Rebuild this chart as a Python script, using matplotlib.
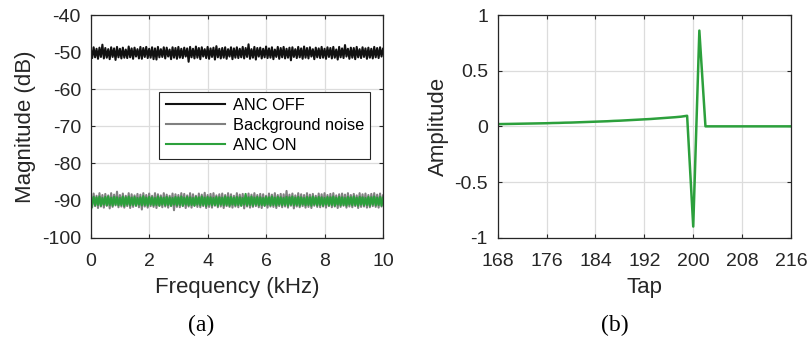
import numpy as np
import matplotlib
matplotlib.use("Agg")
import matplotlib.pyplot as plt

plt.rcParams['font.family'] = ['Liberation Sans', 'DejaVu Sans']

# ---- (a) magnitude spectra, dB, sampled every 0.05 kHz from 0 to 10 kHz ----
anc_off = [
    -49.0,-51.6,-48.7,-51.4,-49.1,-51.8,-48.8,-51.3,-48.0,-51.7,
    -48.9,-51.5,-49.2,-51.9,-48.7,-51.3,-49.0,-52.1,-48.6,-51.4,
    -49.1,-51.7,-48.8,-51.5,-49.3,-51.6,-48.5,-51.4,-49.0,-51.8,
    -48.8,-51.2,-49.2,-51.7,-48.6,-51.8,-48.9,-51.3,-48.6,-51.6,
    -49.1,-51.5,-48.7,-51.9,-49.0,-52.0,-48.6,-51.4,-49.2,-51.3,
    -48.7,-51.7,-48.8,-51.2,-49.3,-51.9,-48.7,-51.5,-48.9,-51.8,
    -48.6,-51.5,-49.1,-51.6,-48.8,-51.2,-49.0,-52.6,-48.6,-51.4,
    -49.1,-51.7,-48.5,-51.5,-48.9,-51.9,-48.7,-51.2,-49.2,-51.6,
    -48.6,-51.8,-49.0,-51.3,-48.8,-52.0,-48.4,-51.4,-49.1,-51.7,
    -48.9,-51.5,-48.7,-51.8,-49.2,-51.2,-48.7,-51.9,-49.0,-51.5,
    -48.7,-51.6,-49.1,-51.4,-48.6,-51.7,-48.9,-51.3,-47.9,-51.8,
    -49.2,-51.5,-48.6,-52.0,-48.9,-51.2,-48.8,-51.7,-49.1,-51.4,
    -48.5,-51.6,-49.0,-51.5,-48.7,-51.9,-49.3,-51.3,-48.6,-51.8,
    -48.9,-51.4,-48.6,-51.7,-49.1,-51.5,-48.8,-52.2,-48.7,-51.3,
    -49.2,-51.6,-48.6,-51.4,-49.0,-51.8,-48.5,-51.5,-48.9,-51.7,
    -48.7,-51.2,-49.2,-51.9,-48.8,-51.4,-49.0,-51.6,-48.6,-51.5,
    -49.1,-51.8,-48.7,-51.3,-48.9,-51.7,-48.6,-51.5,-49.3,-52.0,
    -48.6,-51.4,-49.0,-51.6,-48.1,-51.2,-49.1,-51.8,-48.8,-51.5,
    -48.9,-51.9,-48.6,-51.4,-49.2,-51.6,-48.7,-51.3,-49.0,-51.8,
    -48.8,-51.5,-49.1,-51.7,-48.6,-51.4,-48.9,-51.6,-48.7,-51.2,
    -49.1,
]

background = [
    -88.4,-91.8,-88.1,-91.5,-88.7,-92.0,-88.0,-91.6,-88.5,-91.9,
    -88.2,-91.4,-88.6,-92.1,-88.0,-91.7,-88.4,-91.3,-87.6,-91.8,
    -88.5,-91.6,-88.1,-91.9,-88.7,-91.5,-88.0,-92.0,-88.3,-91.7,
    -88.6,-91.4,-88.2,-91.8,-88.4,-92.4,-88.0,-91.6,-88.5,-91.9,
    -88.1,-91.5,-88.7,-91.7,-88.0,-92.0,-88.3,-91.4,-88.6,-91.8,
    -88.0,-91.6,-88.4,-91.9,-88.7,-91.5,-88.1,-92.6,-88.3,-91.7,
    -88.5,-91.8,-88.0,-91.5,-88.2,-92.0,-88.6,-91.6,-88.0,-91.9,
    -88.3,-91.4,-88.7,-91.7,-88.1,-91.8,-88.4,-91.5,-87.9,-92.0,
    -88.5,-91.7,-88.2,-91.9,-88.0,-91.4,-88.6,-91.8,-88.3,-91.6,
    -88.1,-92.0,-88.5,-91.5,-88.0,-91.7,-88.3,-91.9,-88.7,-91.6,
    -88.0,-91.8,-88.4,-91.4,-88.2,-92.1,-88.6,-91.6,-88.1,-91.9,
    -88.4,-91.7,-88.0,-91.5,-88.5,-91.8,-88.2,-92.0,-88.3,-91.4,
    -88.7,-91.9,-88.1,-91.6,-88.4,-91.7,-88.0,-92.0,-88.5,-91.5,
    -88.2,-91.8,-88.3,-91.6,-87.4,-91.9,-88.4,-91.4,-88.1,-92.1,
    -88.6,-91.6,-88.0,-91.8,-88.3,-91.5,-88.5,-91.9,-88.0,-91.7,
    -88.4,-92.0,-88.2,-91.4,-88.7,-91.7,-88.1,-91.8,-88.3,-91.6,
    -88.0,-91.9,-88.5,-91.5,-88.2,-91.8,-88.0,-91.6,-88.6,-92.0,
    -88.3,-91.7,-88.1,-91.4,-88.4,-91.9,-88.0,-91.6,-88.5,-91.8,
    -88.2,-91.5,-88.6,-92.0,-88.0,-91.7,-88.3,-91.6,-88.1,-91.9,
    -88.5,-91.8,-88.2,-91.5,-88.0,-91.7,-88.4,-91.9,-88.1,-91.6,
    -88.6,
]

anc_on = [
    -92.8,-91.0,-89.0,-91.3,-89.1,-91.2,-88.9,-91.4,-89.3,-91.1,
    -89.0,-91.3,-88.9,-91.2,-89.2,-91.4,-89.0,-91.1,-89.1,-91.3,
    -89.3,-91.2,-88.9,-91.5,-89.1,-91.1,-88.9,-91.3,-89.2,-91.2,
    -89.0,-91.4,-89.3,-91.1,-89.1,-91.3,-88.8,-91.2,-89.2,-91.4,
    -89.0,-91.1,-89.1,-91.3,-89.3,-91.2,-88.9,-91.4,-89.1,-91.1,
    -89.2,-91.3,-89.0,-91.2,-89.1,-91.4,-89.3,-91.1,-89.0,-91.3,
    -89.1,-91.2,-88.9,-91.4,-89.2,-91.1,-89.0,-91.3,-89.1,-91.2,
    -89.3,-91.4,-89.0,-91.1,-89.1,-91.3,-88.9,-91.2,-89.2,-91.5,
    -89.0,-91.1,-89.1,-91.3,-89.3,-91.2,-89.0,-91.4,-89.1,-91.1,
    -89.2,-91.3,-88.9,-91.2,-89.1,-91.4,-89.0,-91.1,-89.2,-91.3,
    -89.0,-91.2,-89.1,-91.4,-89.3,-91.1,-88.2,-91.3,-89.1,-91.2,
    -88.9,-91.4,-89.2,-91.1,-89.0,-91.3,-89.1,-91.2,-89.3,-91.4,
    -89.0,-91.1,-89.1,-91.3,-88.9,-91.2,-89.2,-91.4,-89.0,-91.1,
    -89.1,-91.3,-89.3,-91.2,-89.0,-91.4,-89.1,-91.1,-88.9,-91.3,
    -89.2,-91.2,-89.0,-91.4,-89.1,-91.1,-89.3,-91.3,-89.0,-91.2,
    -89.1,-91.4,-88.9,-91.1,-89.2,-91.3,-89.0,-91.2,-89.1,-91.4,
    -89.3,-91.1,-89.0,-91.3,-89.1,-91.2,-88.9,-91.4,-89.2,-91.1,
    -89.0,-91.3,-89.1,-91.2,-89.3,-91.4,-89.0,-91.1,-89.1,-91.3,
    -88.9,-91.2,-89.2,-91.4,-89.0,-91.1,-89.1,-91.3,-89.3,-91.2,
    -89.0,-91.4,-89.1,-91.1,-88.9,-91.3,-89.2,-91.2,-89.0,-91.4,
    -89.2,
]
freq_khz = np.linspace(0, 10, len(anc_off))

# ---- (b) filter coefficients around the main tap ----
taps = list(range(168, 217))
amplitude = [
    0.020, 0.021, 0.022, 0.023, 0.024, 0.025, 0.026, 0.027, 0.028, 0.030,
    0.031, 0.033, 0.034, 0.036, 0.038, 0.040, 0.042, 0.044, 0.046, 0.049,
    0.051, 0.054, 0.057, 0.060, 0.063, 0.066, 0.070, 0.074, 0.078, 0.082,
    0.087, 0.095, -0.900, 0.860, 0.000, 0.000, 0.000, 0.000, 0.000, 0.000,
    0.000, 0.000, 0.000, 0.000, 0.000, 0.000, 0.000, 0.000, 0.000,
]

freq_ticks = [0, 2, 4, 6, 8, 10]
mag_ticks = [-100, -90, -80, -70, -60, -50, -40]
tap_ticks = [168, 176, 184, 192, 200, 208, 216]
amp_ticks = [-1, -0.5, 0, 0.5, 1]

GREEN = '#2ca03c'
AXC = '#262626'
TICK_FS = 14
LABEL_FS = 16

fig = plt.figure(figsize=(8.09, 3.38), dpi=100)
W, H = 809, 338
ax1 = fig.add_axes([90.7 / W, 1 - 237.7 / H, 292.3 / W, 222.7 / H])
ax2 = fig.add_axes([497.7 / W, 1 - 237.7 / H, 293.3 / W, 222.7 / H])


def style(ax):
    for s in ax.spines.values():
        s.set_color(AXC)
        s.set_linewidth(0.9)
    ax.grid(True, color='#dcdcdc', linewidth=0.9)
    ax.set_axisbelow(True)
    ax.tick_params(direction='in', length=3, width=0.8, colors=AXC,
                   labelsize=TICK_FS, top=True, right=True)
    ax.tick_params(axis='y', pad=7)
    ax.tick_params(axis='x', pad=11)


ax1.plot(freq_khz, anc_off, color='#111111', lw=1.5, label='ANC OFF')
ax1.plot(freq_khz, background, color='#808080', lw=1.5, label='Background noise')
ax1.plot(freq_khz, anc_on, color=GREEN, lw=1.5, label='ANC ON')
ax1.set_xlim(0, 10)
ax1.set_ylim(-100, -40)
ax1.set_xticks(freq_ticks)
ax1.set_yticks(mag_ticks)
ax1.set_xticklabels([str(t) for t in freq_ticks])
ax1.set_yticklabels([str(t) for t in mag_ticks])
style(ax1)
ax1.set_xlabel('Frequency (kHz)', fontsize=LABEL_FS, color=AXC, labelpad=5)
ax1.set_ylabel('Magnitude (dB)', fontsize=LABEL_FS, color=AXC, labelpad=4)
leg = ax1.legend(loc='upper right', bbox_to_anchor=(0.955, 0.655),
                 fontsize=11.8, handlelength=3.66, handletextpad=0.43,
                 labelspacing=0.3, borderpad=0.37, fancybox=False,
                 framealpha=1, edgecolor=AXC, borderaxespad=0)
leg.get_frame().set_linewidth(0.8)

ax2.plot(taps, amplitude, color=GREEN, lw=1.8)
ax2.set_xlim(168, 216)
ax2.set_ylim(-1, 1)
ax2.set_xticks(tap_ticks)
ax2.set_yticks(amp_ticks)
ax2.set_yticklabels(['-1', '-0.5', '0', '0.5', '1'])
style(ax2)
ax2.set_xlabel('Tap', fontsize=LABEL_FS, color=AXC, labelpad=5)
ax2.set_ylabel('Amplitude', fontsize=LABEL_FS, color=AXC, labelpad=4)

fig.text(201 / W, 1 - 325 / H, '(a)', ha='center', va='center',
         fontsize=17, family='Liberation Serif')
fig.text(615 / W, 1 - 325 / H, '(b)', ha='center', va='center',
         fontsize=17, family='Liberation Serif')

fig.savefig('out.png', dpi=100)
